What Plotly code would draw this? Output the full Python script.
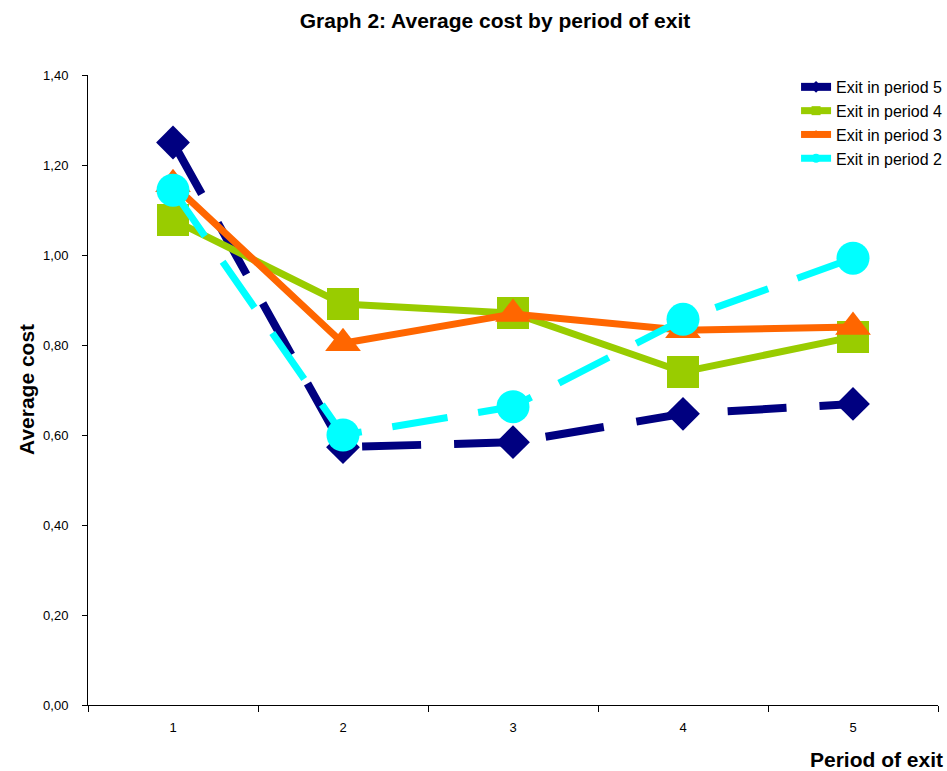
import plotly.graph_objects as go

periods = [1, 2, 3, 4, 5]
period_labels = ["1", "2", "3", "4", "5"]

exit_p5 = [1.25, 0.573, 0.584, 0.647, 0.669]
exit_p4 = [1.078, 0.891, 0.871, 0.740, 0.818]
exit_p3 = [1.157, 0.804, 0.869, 0.833, 0.840]
exit_p2 = [1.144, 0.600, 0.663, 0.857, 0.993]

y_ticks = [0.0, 0.2, 0.4, 0.6, 0.8, 1.0, 1.2, 1.4]

series = [
    ("Exit in period 5", exit_p5, "#000080", "diamond", 26, 8, "59px,33px"),
    ("Exit in period 4", exit_p4, "#99CC00", "square", 32, 7, "solid"),
    ("Exit in period 3", exit_p3, "#FF6600", "triangle-up", 31, 7, "solid"),
    ("Exit in period 2", exit_p2, "#00FFFF", "circle", 33, 7, "56px,31px"),
]

FONT = "Arial, Liberation Sans, sans-serif"
W, H = 947, 771

fig = go.Figure()
for name, vals, color, sym, msize, lw, dash in series:
    fig.add_trace(go.Scatter(
        x=periods, y=vals, mode="lines+markers", name=name, showlegend=False,
        line=dict(color=color, width=lw, dash=dash),
        marker=dict(symbol=sym, size=msize, color=color, line=dict(width=0)),
    ))
# legend-only entries (small markers like the original legend)
for name, vals, color, sym, msize, lw, dash in series:
    fig.add_trace(go.Scatter(
        x=[None], y=[None], mode="lines+markers", name=name,
        line=dict(color=color, width=lw),
        marker=dict(symbol=sym, size=9, color=color, line=dict(width=0)),
    ))

fig.update_layout(
    width=W, height=H,
    paper_bgcolor="white", plot_bgcolor="white",
    separators=",.",
    font=dict(family=FONT, color="black", size=13),
    margin=dict(l=88, r=9, t=75, b=66, autoexpand=False),
    title=dict(text="<b>Graph 2: Average cost by period of exit</b>",
               x=495 / W, xanchor="center", xref="container",
               y=1 - 21 / H, yanchor="middle", yref="container",
               font=dict(size=21, family=FONT, color="black")),
    showlegend=True,
    legend=dict(x=0.833, xanchor="left", y=1.008, yanchor="top",
                bgcolor="rgba(0,0,0,0)", font=dict(size=16, family=FONT),
                tracegroupgap=0),
    xaxis=dict(range=[0.5, 5.5], tickmode="array", tickvals=periods,
               ticktext=period_labels, ticks="", showgrid=False, zeroline=False,
               showline=True, linecolor="black", linewidth=1,
               minor=dict(tickmode="array", tickvals=[0.5, 1.5, 2.5, 3.5, 4.5, 5.5],
                          ticks="outside", ticklen=6, tickcolor="black", showgrid=False),
               ticklabelstandoff=10,
               tickfont=dict(size=13), fixedrange=True),
    yaxis=dict(range=[0, 1.4], tickmode="array", tickvals=y_ticks,
               tickformat=".2f", ticks="outside", ticklen=5, tickcolor="black",
               showgrid=False, zeroline=False, showline=True, linecolor="black",
               linewidth=1, ticklabelstandoff=11,
               tickfont=dict(size=13), fixedrange=True),
    annotations=[
        dict(text="<b>Average cost</b>", textangle=-90, xref="paper", yref="paper",
             x=(26 - 88) / 850, y=0.5, xanchor="center", yanchor="middle",
             showarrow=False, font=dict(size=21, family=FONT)),
        dict(text="<b>Period of exit</b>", xref="paper", yref="paper",
             x=(945 - 88) / 850, y=-(759 - 705) / 630, xanchor="right", yanchor="middle",
             showarrow=False, font=dict(size=21, family=FONT)),
    ],
)

fig.write_html("out.html", config={"displayModeBar": False},
               post_script="document.body.style.margin='0';document.body.style.overflow='hidden';")
